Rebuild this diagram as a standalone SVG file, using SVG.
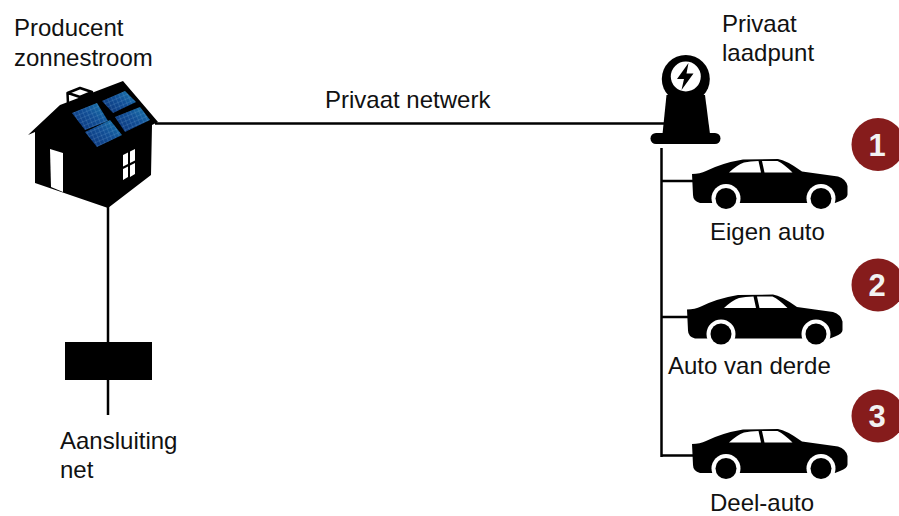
<svg xmlns="http://www.w3.org/2000/svg" width="899" height="516" viewBox="0 0 899 516">
<style>
text{font-family:"Liberation Sans",Arial,sans-serif;font-size:24px;fill:#111}
.num{font-size:31px;font-weight:bold;fill:#f2f2f2;text-anchor:middle}
.badge{fill:#861c1c}
.line{stroke:#000;stroke-width:2.5;fill:none}
.panel{fill:url(#pv)}
.cell{fill:url(#cells)}
</style>
<defs>
<linearGradient id="pv" x1="0" y1="1" x2="1" y2="0"><stop offset="0" stop-color="#0b3278"/><stop offset=".55" stop-color="#124f96"/><stop offset="1" stop-color="#1a7cad"/></linearGradient>
<pattern id="cells" width="4" height="4" patternUnits="userSpaceOnUse" patternTransform="rotate(-23)"><path d="M0 0H4M0 0V4" stroke="#8fc4e8" stroke-width=".6" stroke-opacity=".55" fill="none"/></pattern>
<g id="car">
<path d="M692 174 Q700 174 706 171 Q722 163 743 159.500 L778 159 Q786 160 802 171.500 L838 176.500 Q846 179 847.500 186 L847.500 194 Q848 198 840 201 L835 203 L700 203 Q693 201 693 195Z" fill="#000"/>
<path d="M729 172.500 Q737 165 744 162.500 Q750 161 758.500 161 L761 172.500Z M762 161 L777.500 161 Q784 164 792.500 172.500 L764.500 172.500Z" fill="#fff"/>
<circle cx="726" cy="198.500" r="14.500" fill="#fff"/><circle cx="726" cy="198.500" r="10.500" fill="#000"/>
<circle cx="821" cy="198.500" r="14.500" fill="#fff"/><circle cx="821" cy="198.500" r="10.500" fill="#000"/>
</g>
</defs>
<g id="connectors">
<path class="line" d="M155 123.500H664"/>
<path class="line" d="M108 205V415"/>
<path class="line" d="M661.500 148V457"/>
<path class="line" d="M661 181H693M661 317H689M661 455.500H693"/>
</g>
<g id="house">
<path d="M67.500 93 L80 88 L92 92 L92 98 L68 104Z M68 93 L80 97 L92 92" fill="#fff" stroke="#000" stroke-width="2.500" stroke-linejoin="round"/>
<path d="M123 81 L158 122 L152 125 L151 175 L108 208 L35 183 L35 132 L28 135 L60 105Z" fill="#000"/>
<path class="panel" d="M72 113 L97 103 L108 121 L85 130Z"/><path class="cell" d="M72 113 L97 103 L108 121 L85 130Z"/>
<path class="panel" d="M102 101 L125 91 L136 102 L113 113Z"/><path class="cell" d="M102 101 L125 91 L136 102 L113 113Z"/>
<path class="panel" d="M85 132 L110 120 L122 135 L97 147Z"/><path class="cell" d="M85 132 L110 120 L122 135 L97 147Z"/>
<path class="panel" d="M115 117 L140 107 L150 120 L125 132Z"/><path class="cell" d="M115 117 L140 107 L150 120 L125 132Z"/>
<path d="M50 149 L63 153 L63 192 L51 187Z" fill="#fff"/>
<path d="M123 155 L128 152.500 L128 164 L123 166.500Z M130 151.500 L135 149 L135 160.500 L130 163Z M123 169 L128 166.500 L128 177 L123 180Z M130 165.500 L135 163 L135 174 L130 177Z" fill="#fff"/>
</g>
<g id="meter"><rect x="65" y="342" width="87" height="38" fill="#000"/></g>
<g id="charger">
<path d="M666.500 95 L705 95 L710 134 L662.500 134Z" fill="#000"/>
<circle cx="685.800" cy="79" r="24" fill="#000"/>
<circle cx="685.800" cy="76.500" r="15" fill="#fff"/>
<path d="M688.500 63 L677 79 L684 79 L681.500 90 L693.500 73.500 L686.500 73.500Z" fill="#000"/>
<rect x="650.500" y="133" width="70" height="11" rx="5.500" fill="#000"/>
</g>
<g id="car1"><use href="#car"/></g>
<g id="car2"><use href="#car" x="-5" y="135.500"/></g>
<g id="car3"><use href="#car" y="270"/></g>
<g id="badge1"><circle class="badge" cx="878" cy="144.500" r="26.500"/><text class="num" x="877" y="156">1</text></g>
<g id="badge2"><circle class="badge" cx="878" cy="285" r="26.500"/><text class="num" x="877" y="296">2</text></g>
<g id="badge3"><circle class="badge" cx="878" cy="416" r="26.500"/><text class="num" x="877" y="427">3</text></g>
<g id="labels">
<text x="14" y="36">Producent</text>
<text x="14" y="66">zonnestroom</text>
<text x="722" y="32">Privaat</text>
<text x="722" y="61">laadpunt</text>
<text x="325" y="108">Privaat netwerk</text>
<text x="710" y="240">Eigen auto</text>
<text x="668" y="374">Auto van derde</text>
<text x="710" y="510.500">Deel-auto</text>
<text x="60" y="449">Aansluiting</text>
<text x="60" y="478">net</text>
</g>
</svg>
